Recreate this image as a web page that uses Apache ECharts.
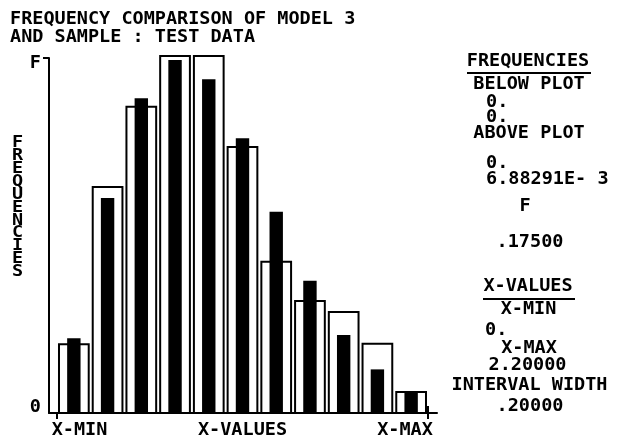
<!DOCTYPE html>
<html>
<head>
<meta charset="utf-8">
<script src="https://cdn.jsdelivr.net/npm/echarts@6/dist/echarts.min.js"></script>
<style>
   html, body { margin: 0; padding: 0; background: #fff; }
   #chart { width: 626px; height: 439px; }
</style>
</head>
<body>
<div id="chart"></div>
<script>
// ── Datos ───────────────────────────────────────────────────────────────────
const lineasTitulo = ["FREQUENCY COMPARISON OF MODEL 3", "AND SAMPLE : TEST DATA"];
const nombreEjeY = "FREQUENCIES";
const etiquetasX = ["X-MIN", "X-VALUES", "X-MAX"];
const valoresEtiquetasX = [0, 1.1, 2.2];
const anchoIntervalo = 0.2;
const inicioIntervalo = [0, 0.2, 0.4, 0.6, 0.8, 1.0, 1.2, 1.4, 1.6, 1.8, 2.0];
const frecModelo = [0.0344, 0.1119, 0.1515, 0.1765, 0.1765, 0.1316, 0.0751, 0.0557, 0.0503, 0.0346, 0.0108];
const frecMuestra = [0.0368, 0.1060, 0.1551, 0.1740, 0.1645, 0.1354, 0.0992, 0.0652, 0.0384, 0.0215, 0.0108];
const frecMaxima = 0.175;
const lineasPanel = [
   "FREQUENCIES", "BELOW PLOT", "0.", "0.", "ABOVE PLOT", "0.", "6.88291E- 3",
   "F", ".17500", "X-VALUES", "X-MIN", "0.", "X-MAX", "2.20000", "INTERVAL WIDTH", ".20000"
];

// ── Maquetacion (posiciones del panel derecho) ──────────────────────────────
const posPanel = [
   [528, 61.5, "center"], [529, 84, "center"], [486, 102.5, "left"], [486, 117.5, "left"],
   [529, 133, "center"], [486, 163.5, "left"], [486, 179, "left"], [525, 206, "center"],
   [530, 242, "center"], [528, 286, "center"], [528.5, 309, "center"], [485, 330, "left"],
   [529, 348, "center"], [527.5, 365.5, "center"], [529.5, 385.5, "center"], [530, 406, "center"]
];
const fuente = 'bold 18.5px "DejaVu Sans Mono"';
const negro = "#000";
const estiloEtiqueta = { color: negro, fontFamily: "DejaVu Sans Mono", fontWeight: "bold", fontSize: 18.5 };

const grafica = echarts.init(document.getElementById("chart"), null, { renderer: "canvas" });

const graficos = [];
lineasTitulo.forEach((t, i) => {
   graficos.push({ type: "text", style: { text: t, x: 10, y: 19.5 + i * 18, font: fuente, fill: negro, align: "left", verticalAlign: "middle" } });
});
// letras apiladas del eje Y, un poco achatadas como en el trazador
graficos.push({
   type: "text",
   x: 17.5, y: 207.5, scaleY: 0.86,
   style: {
      text: nombreEjeY.split("").join("\n"), x: 0, y: 0,
      font: fuente, fill: negro,
      align: "center", verticalAlign: "middle", lineHeight: 15
   }
});
lineasPanel.forEach((t, i) => {
   const p = posPanel[i];
   graficos.push({ type: "text", style: { text: t, x: p[0], y: p[1], font: fuente, fill: negro, align: p[2], verticalAlign: "middle" } });
});
graficos.push({ type: "line", shape: { x1: 467, y1: 73, x2: 591, y2: 73 }, style: { stroke: negro, lineWidth: 2 } });
graficos.push({ type: "line", shape: { x1: 483, y1: 299, x2: 575, y2: 299 }, style: { stroke: negro, lineWidth: 2 } });

const datosModelo = inicioIntervalo.map((x, i) => [x, frecModelo[i]]);
const datosMuestra = inicioIntervalo.map((x, i) => [x, frecMuestra[i]]);

const opcion = {
   animation: false,
   backgroundColor: "#fff",
   grid: { left: 49, right: 189, top: 58, bottom: 26, outerBoundsMode: "none" },
   xAxis: [
      {
         type: "value", min: -0.0474, max: 2.2534,
         splitLine: { show: false },
         axisLine: { lineStyle: { color: negro, width: 2 } },
         axisTick: { customValues: [0, 2.2], length: 6, lineStyle: { color: negro, width: 2 } },
         axisLabel: {
            customValues: valoresEtiquetasX,
            formatter: (v) => {
               const i = valoresEtiquetasX.indexOf(v);
               return i === 0 ? "{a|" + etiquetasX[0] + "}" : i === 2 ? "{c|" + etiquetasX[2] + "}" : "{b|" + etiquetasX[1] + "}";
            },
            verticalAlign: "middle", margin: 17,
            rich: {
               a: { ...estiloEtiqueta, padding: [0, 0, 0, 45] },
               b: { ...estiloEtiqueta },
               c: { ...estiloEtiqueta, padding: [0, 46, 0, 0] }
            }
         }
      },
      {
         type: "value", min: -0.0474, max: 2.2534, position: "bottom",
         splitLine: { show: false },
         axisLine: { show: false },
         axisTick: { customValues: [2.2], inside: true, length: 7, lineStyle: { color: negro, width: 2 } },
         axisLabel: { show: false }
      }
   ],
   yAxis: {
      type: "value", min: 0, max: frecMaxima,
      splitLine: { show: false },
      axisLine: { show: true, onZero: false, lineStyle: { color: negro, width: 2 } },
      axisTick: { show: true, customValues: [frecMaxima], length: 6, lineStyle: { color: negro, width: 2 } },
      axisLabel: {
         customValues: [0, frecMaxima],
         formatter: (v) => v === 0 ? "{z|0}" : "{f|F}",
         margin: 8,
         rich: {
            z: { ...estiloEtiqueta, padding: [0, 0, 11, 0] },
            f: { ...estiloEtiqueta, padding: [11, 0, 0, 0] }
         }
      }
   },
   graphic: graficos,
   series: [
      {
         name: "Modelo",
         type: "custom",
         clip: false,
         renderItem: (params, api) => {
            const x0 = api.value(0);
            const p0 = api.coord([x0, api.value(1)]);
            const p1 = api.coord([x0 + anchoIntervalo, 0]);
            return {
               type: "rect",
               shape: { x: p0[0] + 2, y: p0[1] + 1, width: p1[0] - p0[0] - 4, height: p1[1] - p0[1] - 1 },
               style: { fill: "#fff", stroke: negro, lineWidth: 2 }
            };
         },
         encode: { x: 0, y: 1 },
         data: datosModelo
      },
      {
         name: "Muestra",
         type: "custom",
         clip: false,
         renderItem: (params, api) => {
            const x0 = api.value(0);
            const p0 = api.coord([x0, api.value(1)]);
            const p1 = api.coord([x0 + anchoIntervalo, 0]);
            const centro = (p0[0] + p1[0]) / 2;
            return {
               type: "rect",
               shape: { x: centro - 6.7, y: p0[1], width: 13.4, height: p1[1] - p0[1] },
               style: { fill: negro }
            };
         },
         encode: { x: 0, y: 1 },
         data: datosMuestra
      }
   ]
};

grafica.setOption(opcion);
</script>
</body>
</html>
